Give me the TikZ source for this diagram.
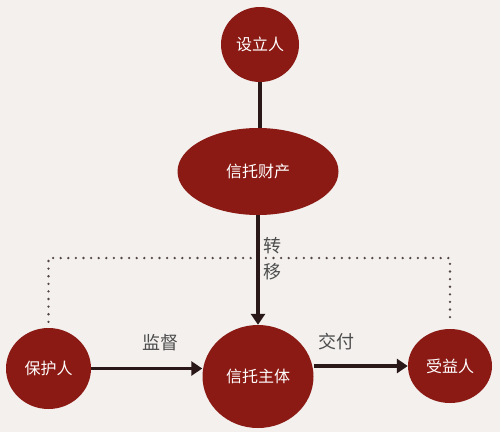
\documentclass[tikz,border=0pt]{standalone}
\usepackage{fontspec}
\newfontfamily\cjk{Noto Sans CJK SC}
\usetikzlibrary{arrows.meta,shapes.geometric}
\definecolor{bg}{HTML}{F3F0EE}
\definecolor{nodered}{HTML}{8C1A14}
\definecolor{linec}{HTML}{2A1818}
\definecolor{labc}{HTML}{4C4C4C}
\begin{document}
\begin{tikzpicture}[x=1pt,y=-1pt,
  ent/.style={ellipse, fill=nodered, text=white, inner sep=0pt,
    font=\cjk\fontsize{16}{16}\selectfont},
  conn/.style={draw=linec, line width=3.4pt},
  arr/.style={conn, -{Triangle[length=11pt,width=14pt]}},
  dotline/.style={draw=linec!80, line width=2.6pt, dash pattern=on 0pt off 7.6pt, line cap=round},
  lab/.style={text=labc, inner sep=0pt, font=\cjk\fontsize{18}{26}\selectfont}]
\fill[bg] (0,0) rectangle (500,432);
\useasboundingbox (0,0) rectangle (500,432);

\node[ent, minimum width=78pt, minimum height=75pt] (settlor) at (260,44.5) {设立人};
\node[ent, minimum width=161pt, minimum height=87pt] (prop) at (258,171.5) {信托财产};
\node[ent, minimum width=111pt, minimum height=103pt] (trust) at (258,376.5) {信托主体};
\node[ent, minimum width=85pt, minimum height=81pt] (prot) at (48.5,368.5) {保护人};
\node[ent, minimum width=84pt, minimum height=74pt] (ben) at (450,366) {受益人};

\coordinate (dl) at (48.5,258);
\coordinate (dr) at (450,258);
\draw[dotline] ([yshift=6pt]prot.north) -- (dl) -- (dr) -- ([yshift=7pt]ben.north);

\draw[conn] (settlor.south) -- (settlor.south |- prop.north);
\draw[arr] (prop.south) -- (trust.north);
\draw[arr] (prot.east) -- (prot.east -| trust.west);
\draw[arr] (trust.east |- ben.west) -- (ben.west);

\node[lab] (jd) at (160,343) {监督};
\node[lab] (jf) at (336,342) {交付};
\node[lab, align=center] (zy) at (272,259) {转\\移};
\end{tikzpicture}
\end{document}
